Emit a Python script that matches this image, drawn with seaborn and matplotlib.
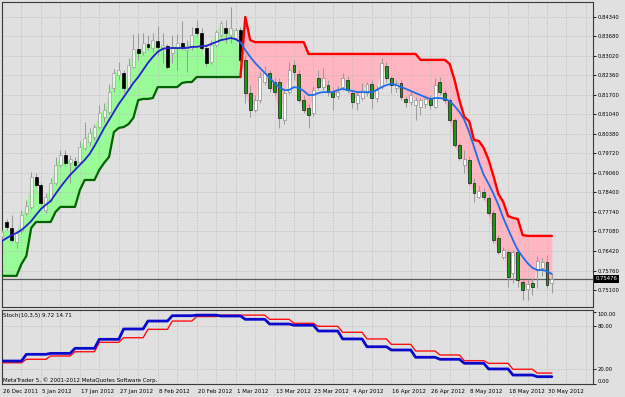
import numpy as np
import pandas as pd
import matplotlib
matplotlib.use("Agg")
import matplotlib.pyplot as plt
import matplotlib.transforms as mtransforms
from matplotlib.ticker import MultipleLocator, FixedLocator, FormatStrFormatter
import seaborn as sns

# ---------------- data ----------------
opens = [
    0.7693, 0.7740, 0.7720, 0.7672, 0.7710, 0.7770, 0.7791, 0.7892, 0.7865, 0.7781,
    0.7814, 0.7872, 0.7933, 0.7967, 0.7940, 0.7946, 0.7943, 0.7990, 0.8010, 0.8027,
    0.8061, 0.8095, 0.8112, 0.8193, 0.8237, 0.8244, 0.8193, 0.8264, 0.8325, 0.8315,
    0.8342, 0.8328, 0.8352, 0.8332, 0.8335, 0.8311, 0.8328, 0.8345, 0.8321, 0.8332,
    0.8396, 0.8379, 0.8328, 0.8281, 0.8338, 0.8372, 0.8396, 0.8372, 0.8362, 0.8389,
    0.8288, 0.8176, 0.8119, 0.8152, 0.8213, 0.8244, 0.8213, 0.8213, 0.8085, 0.8179,
    0.8271, 0.8240, 0.8152, 0.8125, 0.8109, 0.8227, 0.8196, 0.8203, 0.8179, 0.8166,
    0.8196, 0.8220, 0.8176, 0.8142, 0.8159, 0.8176, 0.8207, 0.8159, 0.8196, 0.8267,
    0.8227, 0.8193, 0.8210, 0.8156, 0.8145, 0.8136, 0.8129, 0.8139, 0.8156, 0.8129,
    0.8213, 0.8176, 0.8152, 0.8085, 0.8000, 0.7933, 0.7950, 0.7872, 0.7825, 0.7842,
    0.7821, 0.7770, 0.7686, 0.7622, 0.7639, 0.7568, 0.7639, 0.7537, 0.7514, 0.7534,
    0.7578, 0.7585, 0.7605, 0.7534,
]
highs = [
    0.7713, 0.7750, 0.7764, 0.7710, 0.7781, 0.7814, 0.7909, 0.7906, 0.7872, 0.7838,
    0.7889, 0.7960, 0.7983, 0.7983, 0.7967, 0.7960, 0.8014, 0.8078, 0.8058, 0.8071,
    0.8136, 0.8142, 0.8207, 0.8257, 0.8281, 0.8254, 0.8294, 0.8376, 0.8379, 0.8379,
    0.8372, 0.8379, 0.8403, 0.8379, 0.8342, 0.8372, 0.8376, 0.8419, 0.8355, 0.8399,
    0.8423, 0.8396, 0.8342, 0.8355, 0.8389, 0.8419, 0.8423, 0.8467, 0.8396, 0.8399,
    0.8305, 0.8203, 0.8169, 0.8247, 0.8267, 0.8254, 0.8227, 0.8227, 0.8186, 0.8281,
    0.8288, 0.8254, 0.8169, 0.8139, 0.8200, 0.8254, 0.8261, 0.8220, 0.8193, 0.8200,
    0.8244, 0.8234, 0.8186, 0.8179, 0.8210, 0.8213, 0.8220, 0.8200, 0.8294, 0.8281,
    0.8234, 0.8220, 0.8220, 0.8166, 0.8179, 0.8162, 0.8159, 0.8169, 0.8169, 0.8227,
    0.8230, 0.8186, 0.8159, 0.8092, 0.8007, 0.7983, 0.7963, 0.7889, 0.7865, 0.7855,
    0.7831, 0.7781, 0.7696, 0.7656, 0.7645, 0.7645, 0.7652, 0.7544, 0.7544, 0.7551,
    0.7625, 0.7618, 0.7629, 0.7564,
]
lows = [
    0.7679, 0.7713, 0.7672, 0.7652, 0.7703, 0.7764, 0.7784, 0.7858, 0.7798, 0.7770,
    0.7808, 0.7865, 0.7926, 0.7933, 0.7872, 0.7916, 0.7936, 0.7983, 0.7997, 0.8017,
    0.8054, 0.8078, 0.8105, 0.8179, 0.8220, 0.8179, 0.8186, 0.8261, 0.8288, 0.8305,
    0.8321, 0.8315, 0.8305, 0.8278, 0.8257, 0.8278, 0.8254, 0.8321, 0.8247, 0.8321,
    0.8365, 0.8321, 0.8267, 0.8274, 0.8332, 0.8365, 0.8345, 0.8345, 0.8355, 0.8281,
    0.8142, 0.8095, 0.8112, 0.8142, 0.8203, 0.8179, 0.8166, 0.8058, 0.8071, 0.8173,
    0.8220, 0.8145, 0.8109, 0.8058, 0.8098, 0.8186, 0.8186, 0.8166, 0.8119, 0.8156,
    0.8186, 0.8176, 0.8125, 0.8119, 0.8152, 0.8166, 0.8125, 0.8145, 0.8190, 0.8213,
    0.8176, 0.8179, 0.8152, 0.8129, 0.8135, 0.8085, 0.8102, 0.8125, 0.8122, 0.8125,
    0.8169, 0.8142, 0.8078, 0.7994, 0.7950, 0.7906, 0.7865, 0.7808, 0.7821, 0.7814,
    0.7760, 0.7669, 0.7632, 0.7615, 0.7520, 0.7534, 0.7520, 0.7476, 0.7476, 0.7493,
    0.7517, 0.7558, 0.7517, 0.7500,
]
closes = [
    0.7706, 0.7723, 0.7679, 0.7703, 0.7764, 0.7794, 0.7892, 0.7865, 0.7804, 0.7825,
    0.7872, 0.7933, 0.7967, 0.7940, 0.7953, 0.7933, 0.7994, 0.8024, 0.8041, 0.8061,
    0.8109, 0.8119, 0.8179, 0.8244, 0.8254, 0.8193, 0.8271, 0.8325, 0.8311, 0.8345,
    0.8332, 0.8355, 0.8332, 0.8338, 0.8264, 0.8332, 0.8345, 0.8332, 0.8335, 0.8372,
    0.8379, 0.8328, 0.8278, 0.8338, 0.8382, 0.8413, 0.8379, 0.8396, 0.8389, 0.8288,
    0.8176, 0.8119, 0.8152, 0.8230, 0.8244, 0.8193, 0.8179, 0.8092, 0.8176, 0.8254,
    0.8247, 0.8152, 0.8119, 0.8102, 0.8186, 0.8196, 0.8227, 0.8179, 0.8162, 0.8179,
    0.8227, 0.8186, 0.8145, 0.8169, 0.8186, 0.8207, 0.8159, 0.8186, 0.8278, 0.8227,
    0.8203, 0.8210, 0.8162, 0.8145, 0.8169, 0.8152, 0.8152, 0.8156, 0.8136, 0.8203,
    0.8179, 0.8152, 0.8085, 0.8000, 0.7956, 0.7953, 0.7872, 0.7838, 0.7845, 0.7825,
    0.7770, 0.7679, 0.7639, 0.7645, 0.7554, 0.7639, 0.7544, 0.7510, 0.7530, 0.7520,
    0.7608, 0.7605, 0.7527, 0.75476,
]
ma_line = [
    0.7676, 0.7686, 0.7696, 0.7703, 0.7713, 0.7727, 0.7743, 0.7764, 0.7784, 0.7798,
    0.7811, 0.7835, 0.7858, 0.7879, 0.7899, 0.7916, 0.7933, 0.7950, 0.7970, 0.7997,
    0.8027, 0.8058, 0.8085, 0.8112, 0.8139, 0.8162, 0.8186, 0.8210, 0.8230, 0.8254,
    0.8278, 0.8298, 0.8315, 0.8325, 0.8328, 0.8328, 0.8328, 0.8328, 0.8328, 0.8332,
    0.8332, 0.8335, 0.8335, 0.8342, 0.8348, 0.8355, 0.8358, 0.8362, 0.8358, 0.8348,
    0.8321, 0.8298, 0.8278, 0.8261, 0.8244, 0.8227, 0.8210, 0.8196, 0.8186, 0.8186,
    0.8196, 0.8193, 0.8183, 0.8169, 0.8169, 0.8176, 0.8179, 0.8179, 0.8179, 0.8186,
    0.8190, 0.8186, 0.8183, 0.8179, 0.8179, 0.8179, 0.8179, 0.8186, 0.8196, 0.8203,
    0.8207, 0.8203, 0.8196, 0.8190, 0.8183, 0.8176, 0.8169, 0.8162, 0.8156, 0.8159,
    0.8159, 0.8156, 0.8149, 0.8132, 0.8112, 0.8085, 0.8044, 0.7994, 0.7943, 0.7899,
    0.7869, 0.7835, 0.7798, 0.7754, 0.7716, 0.7679, 0.7645, 0.7622, 0.7601, 0.7585,
    0.7578, 0.7578, 0.7574, 0.7564,
]
stop_line = [
    0.7558, 0.7558, 0.7558, 0.7558, 0.7598, 0.7625, 0.7720, 0.7740, 0.7740, 0.7740,
    0.7740, 0.7774, 0.7791, 0.7791, 0.7791, 0.7791, 0.7848, 0.7882, 0.7882, 0.7882,
    0.7916, 0.7940, 0.7960, 0.8044, 0.8058, 0.8061, 0.8071, 0.8092, 0.8152, 0.8156,
    0.8156, 0.8159, 0.8196, 0.8196, 0.8196, 0.8196, 0.8196, 0.8210, 0.8213, 0.8213,
    0.8230, 0.8230, 0.8230, 0.8230, 0.8230, 0.8230, 0.8230, 0.8230, 0.8230, 0.8230,
    0.8433, 0.8355, 0.8348, 0.8348, 0.8348, 0.8348, 0.8348, 0.8348, 0.8348, 0.8348,
    0.8348, 0.8348, 0.8348, 0.8308, 0.8308, 0.8308, 0.8308, 0.8308, 0.8308, 0.8308,
    0.8308, 0.8308, 0.8308, 0.8308, 0.8308, 0.8308, 0.8308, 0.8308, 0.8308, 0.8308,
    0.8308, 0.8308, 0.8308, 0.8308, 0.8308, 0.8308, 0.8288, 0.8288, 0.8288, 0.8288,
    0.8288, 0.8288, 0.8274, 0.8220, 0.8152, 0.8095, 0.8081, 0.8017, 0.8014, 0.7990,
    0.7950, 0.7895, 0.7835, 0.7808, 0.7760, 0.7754, 0.7750, 0.7696, 0.7693, 0.7693,
    0.7693, 0.7693, 0.7693, 0.7693,
]
last_up_bar = 49          # last bar of the up-trend (green) phase
last_price = 0.75476

# weekly stochastic (10,3,5) values, one per week of 5 daily bars
stoch_main_weekly = [31.4, 40.7, 42.0, 49.0, 61.5, 75.8, 86.8, 94.2, 95.0, 93.8, 89.2, 82.7,
                     81.0, 73.0, 62.0, 51.2, 46.7, 36.6, 33.8, 28.3, 20.4, 12.0, 9.72]
stoch_signal_weekly = [29.0, 33.8, 38.4, 44.3, 57.3, 63.7, 75.3, 86.8, 93.0, 95.0, 95.0, 89.2,
                       83.7, 79.5, 71.2, 62.0, 54.5, 45.3, 39.8, 31.9, 28.2, 20.0, 14.71]
bars_per_week = [5] * 22 + [4]

price_levels = [0.75100, 0.75760, 0.76420, 0.77080, 0.77740, 0.78400, 0.79060, 0.79720,
                0.80380, 0.81040, 0.81700, 0.82360, 0.83020, 0.83680, 0.84340]
date_bars = [0, 8, 16, 24, 32, 40, 48, 56, 64, 72, 80, 88, 96, 104, 112]
date_labels = ["26 Dec 2011", "5 Jan 2012", "17 Jan 2012", "27 Jan 2012", "8 Feb 2012",
               "20 Feb 2012", "1 Mar 2012", "13 Mar 2012", "23 Mar 2012", "4 Apr 2012",
               "16 Apr 2012", "26 Apr 2012", "8 May 2012", "18 May 2012", "30 May 2012"]
stoch_levels = [0, 20, 80, 100]

# ---------------- style ----------------
sns.set_style("white")
plt.rcParams['font.family'] = ['DejaVu Sans']
BG = '#E0E0E0'
GRID = '#BABABA'

n = len(closes)
df = pd.DataFrame({'bar': np.arange(n), 'open': opens, 'high': highs, 'low': lows,
                   'close': closes, 'ma': ma_line, 'stop': stop_line})
df['up'] = df['bar'] <= last_up_bar
sdf = pd.DataFrame({'bar': np.arange(n),
                    'main': np.repeat(stoch_main_weekly, bars_per_week),
                    'signal': np.repeat(stoch_signal_weekly, bars_per_week)})

W, H = 625, 397
fig = plt.figure(figsize=(W / 100, H / 100), dpi=100, facecolor=BG)


def px_axes(x0, y0, x1, y1):
    return fig.add_axes([x0 / W, 1 - y1 / H, (x1 - x0) / W, (y1 - y0) / H])


ax = px_axes(2, 2, 593, 307)
ax2 = px_axes(2, 310, 593, 384)
XMAX = 121.45

# ---------------- main price panel ----------------
ax.set_facecolor(BG)
ax.set_xlim(0, XMAX)
ax.set_ylim(0.74527, 0.84836)

x = df['bar'].values
o = df['open'].values
c = df['close'].values
s = df['stop'].values
up = df['up'].values

ax.fill_between(x, s, c, where=c >= s, interpolate=True, color='#98FB98', lw=0, zorder=1)
ax.fill_between(x, s, c, where=c < s, interpolate=True, color='#FFB6C1', lw=0, zorder=1)

ax.axhline(last_price, color='#5A5A5A', lw=0.9, zorder=2)

bull = c >= o
face = np.where(up, np.where(bull, '#E8F6E8', '#000000'), np.where(bull, '#FFFFFF', '#149C14'))
edge = np.where(up, np.where(bull, '#A0A0A0', '#000000'), np.where(bull, '#8E8E8E', '#1A1A1A'))
ax.vlines(x, df['low'], df['high'], colors='#9C9C9C', lw=0.75, zorder=3)
ax.bar(x, np.maximum(np.abs(c - o), 0.00008), bottom=np.minimum(o, c), width=0.6,
       color=face, edgecolor=edge, linewidth=0.5, zorder=4)

up_df = df[df['bar'] <= last_up_bar]
dn_df = df[df['bar'] >= last_up_bar]
sns.lineplot(data=up_df, x='bar', y='stop', color='#006400', lw=1.6, ax=ax, zorder=5)
sns.lineplot(data=dn_df, x='bar', y='stop', color='#FF0000', lw=1.7, ax=ax, zorder=5)
sns.lineplot(data=up_df, x='bar', y='ma', color='#2323C8', lw=1.3, ax=ax, zorder=6)
sns.lineplot(data=dn_df, x='bar', y='ma', color='#1E6EEA', lw=1.3, ax=ax, zorder=6)

ax.xaxis.set_major_locator(MultipleLocator(4))
ax.set_yticks(price_levels)
ax.yaxis.set_major_formatter(FormatStrFormatter('%.5f'))
ax.yaxis.tick_right()
ax.set_axisbelow('line')
ax.grid(True, color=GRID, linestyle=(0, (2, 2)), linewidth=0.5)
ax.tick_params(axis='y', direction='out', length=2.2, width=0.6, pad=1.0, labelsize=3.8,
               colors='#000000')
ax.tick_params(axis='x', length=0, labelbottom=False)
ax.set_xlabel('')
ax.set_ylabel('')

ax.text(1 + 2.6 / 591, last_price, '%.5f' % last_price,
        transform=mtransforms.blended_transform_factory(ax.transAxes, ax.transData),
        ha='left', va='center', fontsize=3.8, color='white', clip_on=False, zorder=10,
        bbox=dict(boxstyle='square,pad=0.3', fc='#000000', ec='none'))

# ---------------- stochastic panel ----------------
ax2.set_facecolor(BG)
ax2.set_xlim(0, XMAX)
ax2.set_ylim(-0.42, 102.1)
sns.lineplot(data=sdf, x='bar', y='signal', color='#FF1010', lw=1.0, ax=ax2, zorder=4)
sns.lineplot(data=sdf, x='bar', y='main', color='#0A0ACC', lw=2.0, ax=ax2, zorder=5)

ax2.xaxis.set_major_locator(FixedLocator(date_bars))
ax2.set_xticklabels(date_labels, ha='left')
ax2.xaxis.set_minor_locator(MultipleLocator(4))
ax2.set_yticks(stoch_levels)
ax2.yaxis.set_major_formatter(FormatStrFormatter('%.2f'))
ax2.yaxis.tick_right()
ax2.set_axisbelow('line')
ax2.grid(True, which='both', axis='x', color=GRID, linestyle=(0, (2, 2)), linewidth=0.5)
ax2.grid(True, which='major', axis='y', color=GRID, linestyle=(0, (2, 2)), linewidth=0.5)
ygl = ax2.yaxis.get_gridlines()
ygl[0].set_visible(False)
ygl[-1].set_visible(False)
ax2.tick_params(axis='y', direction='out', length=2.2, width=0.6, pad=1.0, labelsize=3.8,
                colors='#000000')
ax2.tick_params(axis='x', which='major', direction='out', length=2.2, width=0.6, pad=1.2,
                labelsize=4, colors='#000000')
ax2.tick_params(axis='x', which='minor', length=0)
ylabs = ax2.get_yticklabels()
ylabs[0].set_va('bottom')
ylabs[-1].set_va('top')
shift = mtransforms.ScaledTranslation(1 / 100, 0, fig.dpi_scale_trans)
for lbl in ax2.get_xticklabels():
    lbl.set_transform(lbl.get_transform() + shift)
ax2.set_xlabel('')
ax2.set_ylabel('')

ax2.text(0.002, 0.932, 'Stoch(10,3,5) %.2f %.2f' % (stoch_main_weekly[-1], stoch_signal_weekly[-1]),
         transform=ax2.transAxes, fontsize=4, ha='left', va='center', color='#000000', zorder=10)
ax2.text(0.002, 0.055, 'MetaTrader 5, \u00a9 2001-2012 MetaQuotes Software Corp.',
         transform=ax2.transAxes, fontsize=4, ha='left', va='center', color='#000000', zorder=10)

for a in (ax, ax2):
    for sp in a.spines.values():
        sp.set_color('#3A3A3A')
        sp.set_linewidth(0.8)
    leg = a.get_legend()
    if leg is not None:
        leg.remove()

fig.savefig('out.png', dpi=100, facecolor=BG)
